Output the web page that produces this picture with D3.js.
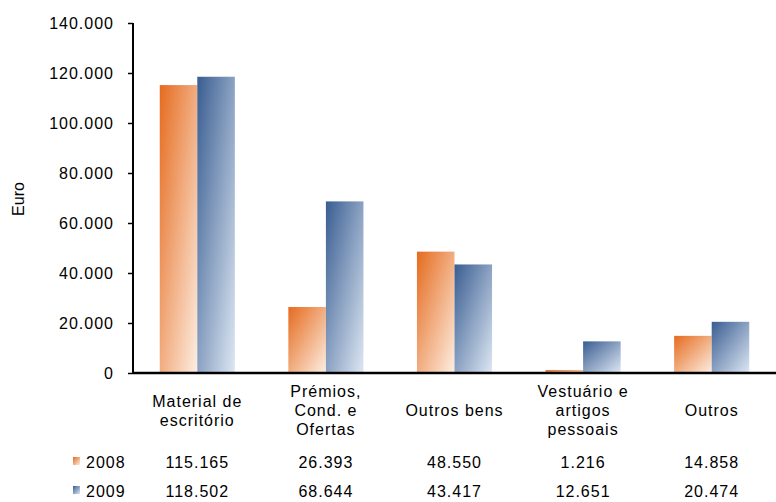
<!DOCTYPE html>
<html><head><meta charset="utf-8">
<script src="https://cdn.jsdelivr.net/npm/d3@7"></script>
<style>body{margin:0;background:#fff}text{font-family:"Liberation Sans",Arial,sans-serif;fill:#000}</style>
</head><body><svg id="c" width="776" height="502"></svg>
<script>
const categories = [["Material de","escritório"],["Prémios,","Cond. e","Ofertas"],["Outros bens"],["Vestuário e","artigos","pessoais"],["Outros"]];
const years = ["2008","2009"];
const values2008 = [115165, 26393, 48550, 1216, 14858];
const values2009 = [118502, 68644, 43417, 12651, 20474];
const yTicks = [0,20000,40000,60000,80000,100000,120000,140000];

const loc = d3.formatLocale({decimal:",",thousands:".",grouping:[3],currency:["","€"]});
const fmt = loc.format(",d");
const svg = d3.select("#c");
const pL=133, pR=776, pT=23, pB=373;
const FS=16, LS="1px";
const y = d3.scaleLinear().domain([0,140000]).range([pB,pT]);
const x = d3.scaleBand().domain(d3.range(categories.length)).range([pL,pR]).paddingInner(0).paddingOuter(0);
const bw = x.bandwidth()*0.292;

const defs = svg.append("defs");
const grads = [["g0","#E56B1E","#FDEEE2"],["g1","#395D91","#DDE7F3"]];
grads.forEach(([id,c1,c2])=>{
  const g = defs.append("linearGradient").attr("id",id).attr("x1",0).attr("y1",0).attr("x2",1).attr("y2",1);
  g.append("stop").attr("offset",0).attr("stop-color",c1);
  g.append("stop").attr("offset",1).attr("stop-color",c2);
});

const series=[values2008,values2009];
series.forEach((vals,si)=>{
  svg.append("g").selectAll("rect").data(vals).join("rect")
    .attr("x",(d,i)=>x(i)+x.bandwidth()/2 + (si===0?-bw:0))
    .attr("width",bw)
    .attr("y",d=>y(d))
    .attr("height",d=>pB-y(d))
    .attr("fill",`url(#g${si})`);
});

const ya = svg.append("g").attr("transform",`translate(${pL},0)`)
  .call(d3.axisLeft(y).tickValues(yTicks).tickSize(5).tickPadding(14).tickFormat(d=>d===0?"0":fmt(d)));
ya.select(".domain").attr("stroke","#000").attr("stroke-width",2).attr("d",`M0,${pT}V${pB}`);
ya.selectAll(".tick line").attr("stroke","#000").attr("stroke-width",1.5);
ya.selectAll(".tick text").attr("font-size",FS).attr("fill","#000").attr("letter-spacing",LS).attr("dy","0.36em")
  .style("font-family",'"Liberation Sans",Arial,sans-serif');
svg.append("line").attr("x1",pL).attr("x2",pR).attr("y1",pB).attr("y2",pB).attr("stroke","#000").attr("stroke-width",2.5);

svg.append("text").attr("transform","translate(24,199) rotate(-90)").attr("text-anchor","middle").attr("font-size",FS).text("Euro");

const lh=19;
categories.forEach((lines,i)=>{
  const cx = x(i)+x.bandwidth()/2;
  const y0 = 416 - (lines.length-1)*lh/2;
  const t = svg.append("text").attr("text-anchor","middle").attr("font-size",FS).attr("letter-spacing",LS);
  lines.forEach((l,j)=>t.append("tspan").attr("x",cx).attr("y",y0+j*lh).text(l));
});

const rowsY=[468,497];
series.forEach((vals,si)=>{
  svg.append("rect").attr("x",73).attr("y",rowsY[si]-11).attr("width",7).attr("height",8).attr("fill",`url(#g${si})`);
  svg.append("text").attr("x",86).attr("y",rowsY[si]).attr("font-size",FS).attr("letter-spacing",LS).text(years[si]);
  vals.forEach((v,i)=>{
    svg.append("text").attr("x",x(i)+x.bandwidth()/2).attr("y",rowsY[si]).attr("text-anchor","middle").attr("font-size",FS).attr("letter-spacing",LS).text(fmt(v));
  });
});
</script></body></html>
